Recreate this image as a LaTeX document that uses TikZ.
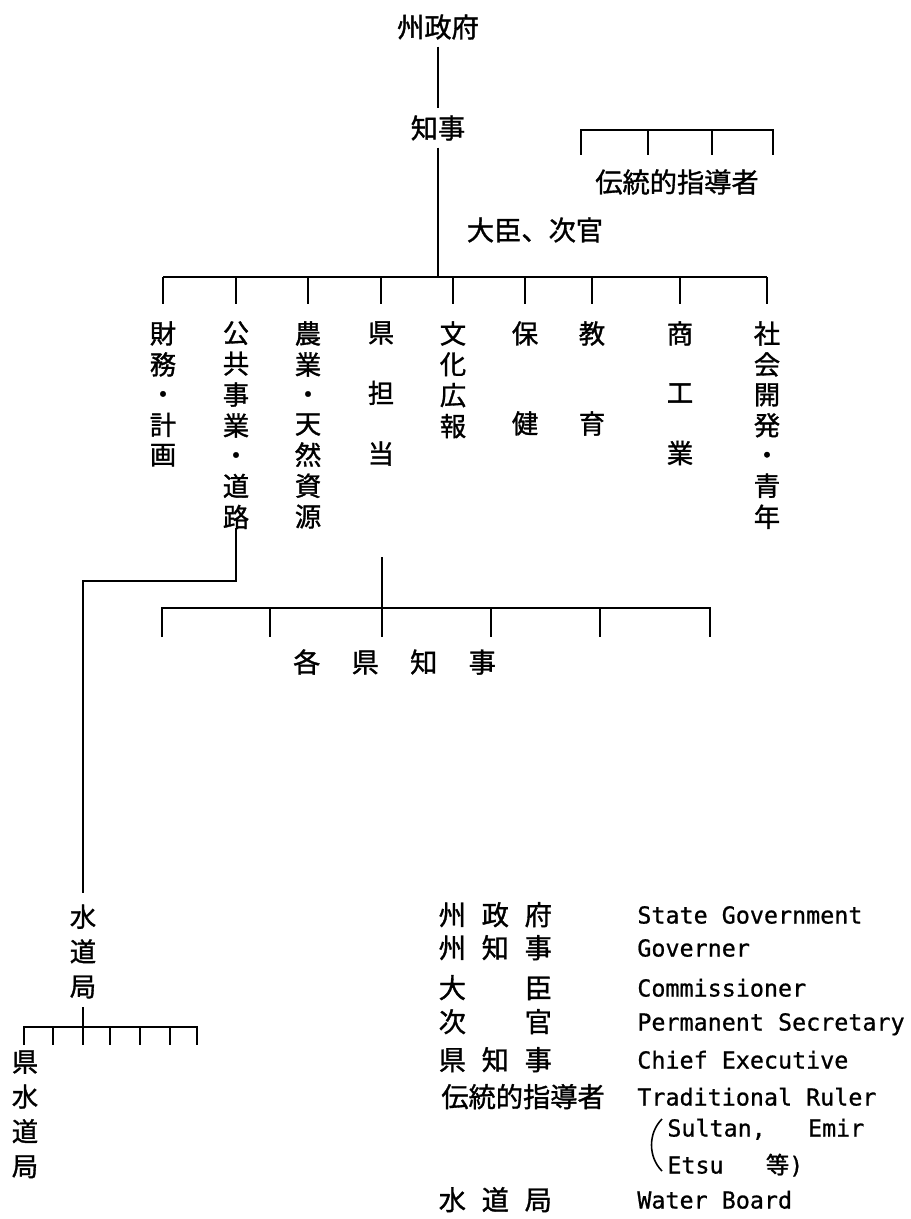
\documentclass[tikz,border=0pt]{standalone}
\usepackage{fontspec}
\newfontfamily\cjk[FakeBold=1.2]{Noto Sans CJK JP}
\newfontfamily\monof[FakeBold=0.8]{DejaVu Sans Mono}
\newcommand\vs[1]{\begin{tabular}{@{}c@{}}#1\end{tabular}}
\newcommand\tri[3]{\makebox[0.86cm]{#1}\makebox[0.86cm]{#2}\makebox[0.86cm]{#3}}
\newcommand\fourw[4]{\makebox[1.17cm]{#1}\makebox[1.17cm]{#2}\makebox[1.17cm]{#3}\makebox[1.17cm]{#4}}
\begin{document}
\begin{tikzpicture}[x=0.02cm,y=-0.02cm,
  ln/.style={line width=1.1pt},
  tk/.style={ln, shorten >=9.6pt},
  hz/.style={font=\cjk\fontsize{15.5}{18}\selectfont, inner sep=0pt, outer sep=4pt},
  vt/.style={font=\cjk\fontsize{15}{16.8}\selectfont, inner sep=0pt, anchor=north},
  vw/.style={font=\cjk\fontsize{15}{19.8}\selectfont, inner sep=0pt, anchor=north},
  lg/.style={font=\cjk\fontsize{15.5}{18}\selectfont, inner sep=0pt, anchor=base west},
  en/.style={font=\monof\fontsize{13.3}{16}\selectfont, inner sep=0pt, anchor=base west}]

\fill[white] (0,0) rectangle (911,1219);
\useasboundingbox (0,0) rectangle (911,1219);

% top of the hierarchy
\node[hz] (gov) at (438,27) {州政府};
\node[hz] (gvn) at (438,128) {知事};
\node[hz] (trad) at (677,182) {伝統的指導者};
\node[hz] (min) at (535,230) {大臣、次官};
\coordinate (bus) at (438,277);
\draw[ln] (gov) -- (gvn);
\draw[ln] (gvn) -- (bus);

% traditional rulers bracket
\draw[ln] (581,155) -- (581,130) -- (773,130) -- (773,155);
\foreach \x in {648,712} \draw[ln] (\x,130) -- (\x,155);

% ministries
\node[vt] (d1) at (163,321) {\vs{財\\務\\・\\計\\画}};
\node[vt] (d2) at (236,321) {\vs{公\\共\\事\\業\\・\\道\\路}};
\node[vt] (d3) at (308,321) {\vs{農\\業\\・\\天\\然\\資\\源}};
\node[vt] (d4) at (381,321) {\vs{県\\ \\担\\ \\当}};
\node[vt] (d5) at (453,321) {\vs{文\\化\\広\\報}};
\node[vt] (d6) at (525,321) {\vs{保\\ \\ \\健}};
\node[vt] (d7) at (592,321) {\vs{教\\ \\ \\育}};
\node[vt] (d8) at (680,321) {\vs{商\\ \\工\\ \\業}};
\node[vt] (d9) at (767,321) {\vs{社\\会\\開\\発\\・\\青\\年}};
\draw[ln] (d1 |- bus) -- (d9 |- bus);
\foreach \d in {d1,d2,d3,d4,d5,d6,d7,d8,d9}
  \draw[tk] (\d |- bus) -- (\d);

% chief executives
\coordinate (cs) at (382,557);
\coordinate (cb) at (382,608);
\draw[ln] (cs) -- (382,637);
\draw[ln] (162,637) -- (162,608) -- (710,608) -- (710,637);
\foreach \x in {270,491,600} \draw[ln] (\x,608) -- (\x,637);
\node[hz] (ck) at (394.5,662) {\fourw{各}{県}{知}{事}};

% water board
\coordinate (bend) at (83,581);
\node[vw] (wb) at (83,902) {\vs{水\\道\\局}};
\draw[ln, shorten <=-4.5pt, shorten >=5pt] (d2.south) |- (bend) -- (wb.north);
\draw[ln] (wb.south) -- (83,1045);
\draw[ln] (24,1045) -- (24,1027) -- (197,1027) -- (197,1045);
\foreach \x in {53,110,140,170} \draw[ln] (\x,1027) -- (\x,1045);
\node[vw] (pw) at (25,1047) {\vs{県\\水\\道\\局}};

% legend
\node[lg] (j1) at (430.5,925) {\tri{州}{政}{府}};
\node[lg] (j2) at (430.5,958) {\tri{州}{知}{事}};
\node[lg] (j3) at (430.5,998) {\tri{大}{}{臣}};
\node[lg] (j4) at (430.5,1032) {\tri{次}{}{官}};
\node[lg] (j5) at (430.5,1070) {\tri{県}{知}{事}};
\node[lg] (j6) at (441,1107) {伝統的指導者};
\node[lg] (j7) at (430.5,1210) {\tri{水}{道}{局}};

\node[en] (e1) at (637,923.5) {State Government};
\node[en] (e2) at (637,956.5) {Governer};
\node[en] (e3) at (637,996.5) {Commissioner};
\node[en] (e4) at (637,1030.5) {Permanent Secretary};
\node[en] (e5) at (637,1068.5) {Chief Executive};
\node[en] (e6) at (637,1105.5) {Traditional Ruler};
\draw[line width=0.9pt] (662,1119) .. controls (648,1133) and (648,1157) .. (662,1171);
\node[en] (e7) at (667,1136.5) {Sultan,\ \ \ Emir};
\node[en] (e8) at (667,1173.5) {Etsu\ \ \ {\cjk 等})};
\node[en] (e9) at (637,1208.5) {Water Board};
\end{tikzpicture}
\end{document}
